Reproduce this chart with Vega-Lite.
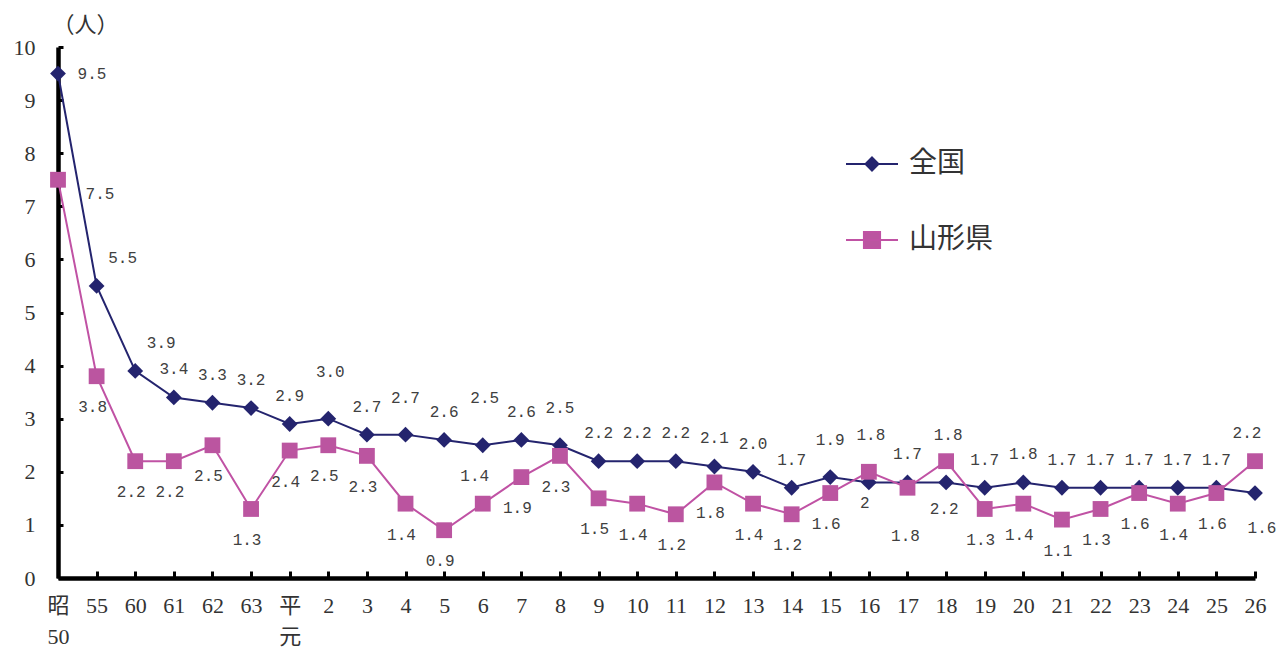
{
  "$schema": "https://vega.github.io/schema/vega-lite/v6.json",
  "width": 1197,
  "height": 531,
  "autosize": {"type": "none"},
  "padding": {"left": 58, "top": 47, "right": 23, "bottom": 70},
  "background": "white",
  "config": {
    "view": {"stroke": null},
    "axis": {"grid": false}
  },
  "data": {
    "values": [
      {"cat": "昭50", "series": "全国", "value": 9.5, "label": "9.5"},
      {"cat": "55", "series": "全国", "value": 5.5, "label": "5.5"},
      {"cat": "60", "series": "全国", "value": 3.9, "label": "3.9"},
      {"cat": "61", "series": "全国", "value": 3.4, "label": "3.4"},
      {"cat": "62", "series": "全国", "value": 3.3, "label": "3.3"},
      {"cat": "63", "series": "全国", "value": 3.2, "label": "3.2"},
      {"cat": "平元", "series": "全国", "value": 2.9, "label": "2.9"},
      {"cat": "2", "series": "全国", "value": 3.0, "label": "3.0"},
      {"cat": "3", "series": "全国", "value": 2.7, "label": "2.7"},
      {"cat": "4", "series": "全国", "value": 2.7, "label": "2.7"},
      {"cat": "5", "series": "全国", "value": 2.6, "label": "2.6"},
      {"cat": "6", "series": "全国", "value": 2.5, "label": "2.5"},
      {"cat": "7", "series": "全国", "value": 2.6, "label": "2.6"},
      {"cat": "8", "series": "全国", "value": 2.5, "label": "2.5"},
      {"cat": "9", "series": "全国", "value": 2.2, "label": "2.2"},
      {"cat": "10", "series": "全国", "value": 2.2, "label": "2.2"},
      {"cat": "11", "series": "全国", "value": 2.2, "label": "2.2"},
      {"cat": "12", "series": "全国", "value": 2.1, "label": "2.1"},
      {"cat": "13", "series": "全国", "value": 2.0, "label": "2.0"},
      {"cat": "14", "series": "全国", "value": 1.7, "label": "1.7"},
      {"cat": "15", "series": "全国", "value": 1.9, "label": "1.9"},
      {"cat": "16", "series": "全国", "value": 1.8, "label": "1.8"},
      {"cat": "17", "series": "全国", "value": 1.8, "label": "1.7"},
      {"cat": "18", "series": "全国", "value": 1.8, "label": "1.8"},
      {"cat": "19", "series": "全国", "value": 1.7, "label": "1.7"},
      {"cat": "20", "series": "全国", "value": 1.8, "label": "1.8"},
      {"cat": "21", "series": "全国", "value": 1.7, "label": "1.7"},
      {"cat": "22", "series": "全国", "value": 1.7, "label": "1.7"},
      {"cat": "23", "series": "全国", "value": 1.7, "label": "1.7"},
      {"cat": "24", "series": "全国", "value": 1.7, "label": "1.7"},
      {"cat": "25", "series": "全国", "value": 1.7, "label": "1.7"},
      {"cat": "26", "series": "全国", "value": 1.6, "label": "1.6"},
      {"cat": "昭50", "series": "山形県", "value": 7.5, "label": "7.5"},
      {"cat": "55", "series": "山形県", "value": 3.8, "label": "3.8"},
      {"cat": "60", "series": "山形県", "value": 2.2, "label": "2.2"},
      {"cat": "61", "series": "山形県", "value": 2.2, "label": "2.2"},
      {"cat": "62", "series": "山形県", "value": 2.5, "label": "2.5"},
      {"cat": "63", "series": "山形県", "value": 1.3, "label": "1.3"},
      {"cat": "平元", "series": "山形県", "value": 2.4, "label": "2.4"},
      {"cat": "2", "series": "山形県", "value": 2.5, "label": "2.5"},
      {"cat": "3", "series": "山形県", "value": 2.3, "label": "2.3"},
      {"cat": "4", "series": "山形県", "value": 1.4, "label": "1.4"},
      {"cat": "5", "series": "山形県", "value": 0.9, "label": "0.9"},
      {"cat": "6", "series": "山形県", "value": 1.4, "label": "1.4"},
      {"cat": "7", "series": "山形県", "value": 1.9, "label": "1.9"},
      {"cat": "8", "series": "山形県", "value": 2.3, "label": "2.3"},
      {"cat": "9", "series": "山形県", "value": 1.5, "label": "1.5"},
      {"cat": "10", "series": "山形県", "value": 1.4, "label": "1.4"},
      {"cat": "11", "series": "山形県", "value": 1.2, "label": "1.2"},
      {"cat": "12", "series": "山形県", "value": 1.8, "label": "1.8"},
      {"cat": "13", "series": "山形県", "value": 1.4, "label": "1.4"},
      {"cat": "14", "series": "山形県", "value": 1.2, "label": "1.2"},
      {"cat": "15", "series": "山形県", "value": 1.6, "label": "1.6"},
      {"cat": "16", "series": "山形県", "value": 2.0, "label": "2"},
      {"cat": "17", "series": "山形県", "value": 1.7, "label": "1.8"},
      {"cat": "18", "series": "山形県", "value": 2.2, "label": "2.2"},
      {"cat": "19", "series": "山形県", "value": 1.3, "label": "1.3"},
      {"cat": "20", "series": "山形県", "value": 1.4, "label": "1.4"},
      {"cat": "21", "series": "山形県", "value": 1.1, "label": "1.1"},
      {"cat": "22", "series": "山形県", "value": 1.3, "label": "1.3"},
      {"cat": "23", "series": "山形県", "value": 1.6, "label": "1.6"},
      {"cat": "24", "series": "山形県", "value": 1.4, "label": "1.4"},
      {"cat": "25", "series": "山形県", "value": 1.6, "label": "1.6"},
      {"cat": "26", "series": "山形県", "value": 2.2, "label": "2.2"}
    ]
  },
  "encoding": {
    "x": {
      "field": "cat",
      "type": "ordinal",
      "sort": ["昭50","55","60","61","62","63","平元","2","3","4","5","6","7","8","9","10","11","12","13","14","15","16","17","18","19","20","21","22","23","24","25","26"],
      "scale": {"type": "point", "padding": 0},
      "axis": {
        "title": null,
        "labelAngle": 0,
        "labelFont": "Liberation Serif, Noto Sans CJK JP",
        "labelFontSize": 22,
        "labelColor": "#333333",
        "labelPadding": 24,
        "labelLineHeight": 31,
        "labelOverlap": false,
        "labelExpr": "datum.value == '昭50' ? ['昭', '50'] : datum.value == '平元' ? ['平', '元'] : datum.value",
        "domainColor": "black",
        "domainWidth": 4.5,
        "tickColor": "black",
        "tickWidth": 3,
        "tickSize": -7
      }
    },
    "y": {
      "field": "value",
      "type": "quantitative",
      "scale": {"domain": [0, 10], "nice": false},
      "axis": {
        "values": [0,1,2,3,4,5,6,7,8,9,10],
        "title": "（人）",
        "titleAngle": 0,
        "titleX": 27,
        "titleY": -23,
        "titleAlign": "center",
        "titleBaseline": "middle",
        "titleFont": "Noto Sans CJK JP",
        "titleFontSize": 22,
        "titleFontWeight": "normal",
        "titleColor": "#333333",
        "labelFont": "Liberation Serif",
        "labelFontSize": 22,
        "labelColor": "#333333",
        "labelPadding": 28,
        "domainColor": "black",
        "domainWidth": 4.5,
        "tickColor": "black",
        "tickWidth": 3,
        "tickSize": -5
      }
    }
  },
  "layer": [
    {
      "mark": {"type": "line", "strokeWidth": 2},
      "encoding": {
        "color": {
          "field": "series",
          "type": "nominal",
          "scale": {"domain": ["全国", "山形県"], "range": ["#24246E", "#C052A4"]},
          "legend": {
            "title": null,
            "orient": "none",
            "legendX": 787,
            "legendY": 90,
            "padding": 0,
            "symbolSize": 2704,
            "symbolStrokeWidth": 2,
            "rowPadding": 35,
            "labelOffset": 10,
            "labelFont": "Noto Sans CJK JP",
            "labelFontSize": 28,
            "labelColor": "#333333",
            "encode": {
              "symbols": {
                "update": {
                  "shape": {"signal": "datum.value === '全国' ? 'M-1,0H1M0,-0.25L0.25,0L0,0.25L-0.25,0Z' : 'M-1,0H1M-0.31,-0.31H0.31V0.31H-0.31Z'"},
                  "fill": {"signal": "datum.value === '全国' ? '#24246E' : '#BB55A0'"},
                  "stroke": {"signal": "datum.value === '全国' ? '#24246E' : '#C052A4'"},
                  "strokeWidth": {"value": 2},
                  "opacity": {"value": 1}
                }
              }
            }
          }
        }
      }
    },
    {
      "transform": [{"filter": "datum.series == '全国'"}],
      "mark": {"type": "point", "shape": "diamond", "filled": true, "size": 250, "color": "#24246E", "opacity": 1}
    },
    {
      "transform": [{"filter": "datum.series == '山形県'"}],
      "mark": {"type": "point", "shape": "square", "filled": true, "size": 250, "color": "#BB55A0", "opacity": 1}
    },
    {
      "transform": [{"filter": "datum.series == '全国' && indexof(['昭50','55','60','26','2','6','16','18','4','8','15'], datum.cat) < 0"}],
      "mark": {"type": "text", "font": "Liberation Mono", "fontSize": 16, "color": "#404040", "dx": 0, "dy": -28, "baseline": "middle"},
      "encoding": {"text": {"field": "label"}}
    },
    {
      "transform": [{"filter": "datum.series == '全国' && indexof(['4','8','15'], datum.cat) >= 0"}],
      "mark": {"type": "text", "font": "Liberation Mono", "fontSize": 16, "color": "#404040", "dx": 0, "dy": -37, "baseline": "middle"},
      "encoding": {"text": {"field": "label"}}
    },
    {
      "transform": [{"filter": "datum.series == '全国' && indexof(['2','6','16','18'], datum.cat) >= 0"}],
      "mark": {"type": "text", "font": "Liberation Mono", "fontSize": 16, "color": "#404040", "dx": 2, "dy": -47, "baseline": "middle"},
      "encoding": {"text": {"field": "label"}}
    },
    {
      "transform": [{"filter": "datum.series == '全国' && datum.cat == '昭50'"}],
      "mark": {"type": "text", "font": "Liberation Mono", "fontSize": 16, "color": "#404040", "dx": 34, "dy": 0, "baseline": "middle"},
      "encoding": {"text": {"field": "label"}}
    },
    {
      "transform": [{"filter": "datum.series == '全国' && (datum.cat == '55' || datum.cat == '60')"}],
      "mark": {"type": "text", "font": "Liberation Mono", "fontSize": 16, "color": "#404040", "dx": 26, "dy": -28, "baseline": "middle"},
      "encoding": {"text": {"field": "label"}}
    },
    {
      "transform": [{"filter": "datum.series == '全国' && datum.cat == '26'"}],
      "mark": {"type": "text", "font": "Liberation Mono", "fontSize": 16, "color": "#404040", "dx": 7, "dy": 35, "baseline": "middle"},
      "encoding": {"text": {"field": "label"}}
    },
    {
      "transform": [{"filter": "datum.series == '山形県' && indexof(['昭50','6','26','17','18'], datum.cat) < 0"}],
      "mark": {"type": "text", "font": "Liberation Mono", "fontSize": 16, "color": "#404040", "dx": -4, "dy": 31, "baseline": "middle"},
      "encoding": {"text": {"field": "label"}}
    },
    {
      "transform": [{"filter": "datum.series == '山形県' && (datum.cat == '17' || datum.cat == '18')"}],
      "mark": {"type": "text", "font": "Liberation Mono", "fontSize": 16, "color": "#404040", "dx": -2, "dy": 48, "baseline": "middle"},
      "encoding": {"text": {"field": "label"}}
    },
    {
      "transform": [{"filter": "datum.series == '山形県' && datum.cat == '昭50'"}],
      "mark": {"type": "text", "font": "Liberation Mono", "fontSize": 16, "color": "#404040", "dx": 42, "dy": 14, "baseline": "middle"},
      "encoding": {"text": {"field": "label"}}
    },
    {
      "transform": [{"filter": "datum.series == '山形県' && (datum.cat == '6' || datum.cat == '26')"}],
      "mark": {"type": "text", "font": "Liberation Mono", "fontSize": 16, "color": "#404040", "dx": -8, "dy": -28, "baseline": "middle"},
      "encoding": {"text": {"field": "label"}}
    }
  ]
}
